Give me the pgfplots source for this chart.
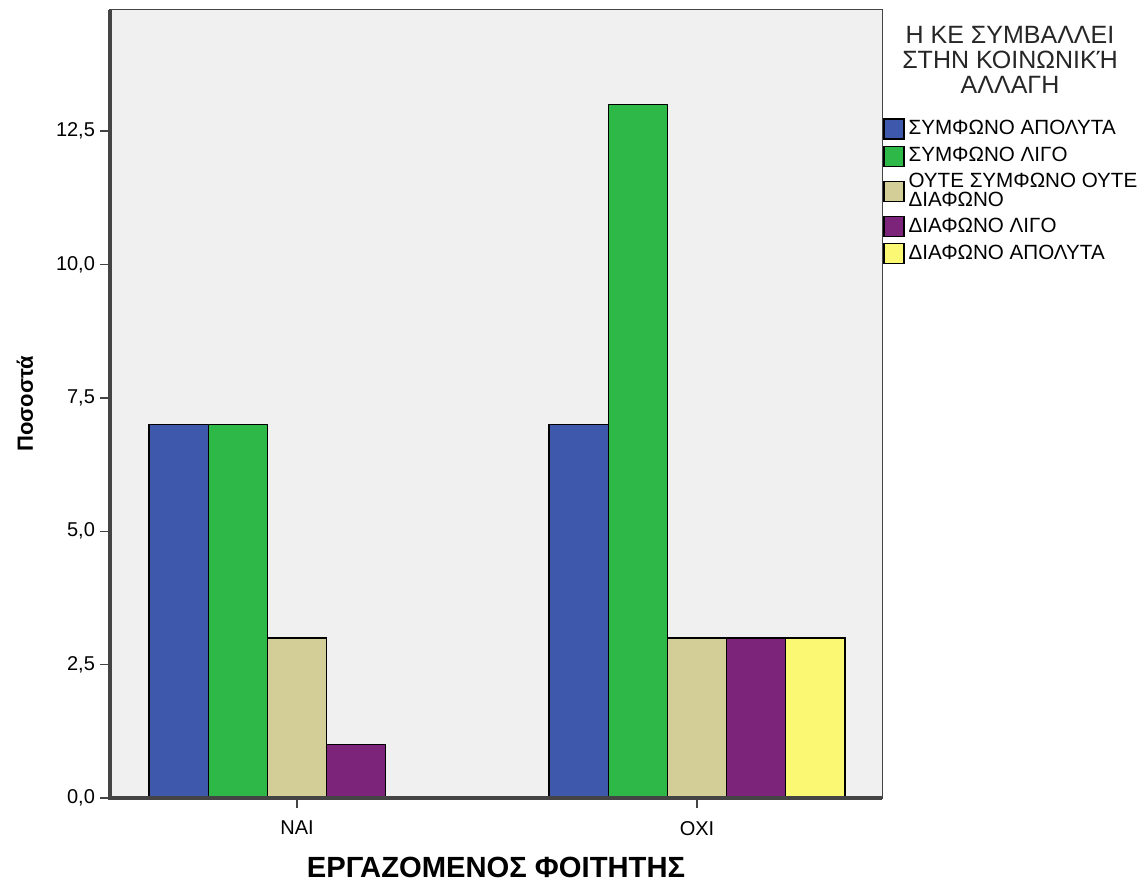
\documentclass[border=0pt]{standalone}
\usepackage{fontspec}
\setmainfont{Liberation Sans}
\usepackage{pgfplots}
\pgfplotsset{compat=1.18}
\definecolor{cblue}{HTML}{3E58AC}
\definecolor{cgreen}{HTML}{2EB848}
\definecolor{ctan}{HTML}{D3CE97}
\definecolor{cpurple}{HTML}{7B2479}
\definecolor{cyellow}{HTML}{FBF873}
\definecolor{bgc}{HTML}{F0F0F0}
\definecolor{axc}{HTML}{444444}
\begin{document}
\begin{tikzpicture}
\useasboundingbox (-55pt,-43pt) rectangle (514.5pt,399pt);
\begin{axis}[
  at={(0,0)}, anchor=south west,
  scale only axis, width=386pt, height=394pt,
  xmin=-0.4675, xmax=1.4625, ymin=0, ymax=14.77,
  clip=false,
  xtick={0,1}, xticklabels={NAI,OXI},
  ytick={0,2.5,5,7.5,10,12.5},
  xtick pos=bottom, ytick pos=left, tick align=outside,
  major tick length=5pt,
  tick style={axc, line width=0.7pt},
  axis line style={axc, line width=0.5pt},
  axis background/.style={fill=bgc},
  /pgf/number format/.cd, fixed, fixed zerofill, precision=1, use comma, assume math mode=true,
  /pgfplots/.cd,
  tick label style={font=\fontsize{10}{10}\selectfont, black},
  xticklabel style={yshift=-3pt},
  yticklabel style={xshift=1pt},
  xlabel={ΕΡΓΑΖΟΜΕΝΟΣ ΦΟΙΤΗΤΗΣ},
  ylabel={Ποσοστά},
  every axis x label/.style={at={(axis description cs:0.5,0)}, yshift=-34.5pt, anchor=center, font=\bfseries\fontsize{14.6}{15}\selectfont},
  every axis y label/.style={at={(axis description cs:0,0.5)}, xshift=-42.5pt, anchor=center, rotate=90, font=\bfseries\fontsize{11}{12}\selectfont},
  ybar, bar width=0.148,
  legend style={at={(rel axis cs:1.0013,0.863)}, anchor=north west, draw=none, fill=none,
    font=\fontsize{10.3}{9.8}\selectfont, cells={anchor=west, align=left}, row sep=3pt, inner sep=0pt,
    nodes={inner xsep=2pt, inner ysep=0pt}},
  legend image code/.code={\draw[#1,/tikz/.cd,yshift=0pt] (0pt,-5pt) rectangle (10pt,5pt);},
]
\addplot[fill=cblue, draw=black, line width=0.6pt, bar shift=-0.296] coordinates {(0,7) (1,7)};
\addplot[fill=cgreen, draw=black, line width=0.6pt, bar shift=-0.148] coordinates {(0,7) (1,13)};
\addplot[fill=ctan, draw=black, line width=0.6pt, bar shift=0] coordinates {(0,3) (1,3)};
\addplot[fill=cpurple, draw=black, line width=0.6pt, bar shift=0.148] coordinates {(0,1) (1,3)};
\addplot[fill=cyellow, draw=black, line width=0.6pt, bar shift=0.296] coordinates {(1,3)};
\legend{ΣΥΜΦΩΝΟ ΑΠΟΛΥΤΑ, ΣΥΜΦΩΝΟ ΛΙΓΟ, {ΟΥΤΕ ΣΥΜΦΩΝΟ ΟΥΤΕ\\ΔΙΑΦΩΝΟ}, ΔΙΑΦΩΝΟ ΛΙΓΟ, ΔΙΑΦΩΝΟ ΑΠΟΛΥΤΑ}
\draw[axc, line width=1.6pt] (rel axis cs:0,1) -- (rel axis cs:0,0) -- (rel axis cs:1,0);
\node[align=center, font=\fontsize{12.5}{12.5}\selectfont, text=black!85] at (rel axis cs:1.1658,0.9365) {Η ΚΕ ΣΥΜΒΑΛΛΕΙ\\ΣΤΗΝ ΚΟΙΝΩΝΙΚΉ\\ΑΛΛΑΓΗ};
\end{axis}
\end{tikzpicture}
\end{document}
